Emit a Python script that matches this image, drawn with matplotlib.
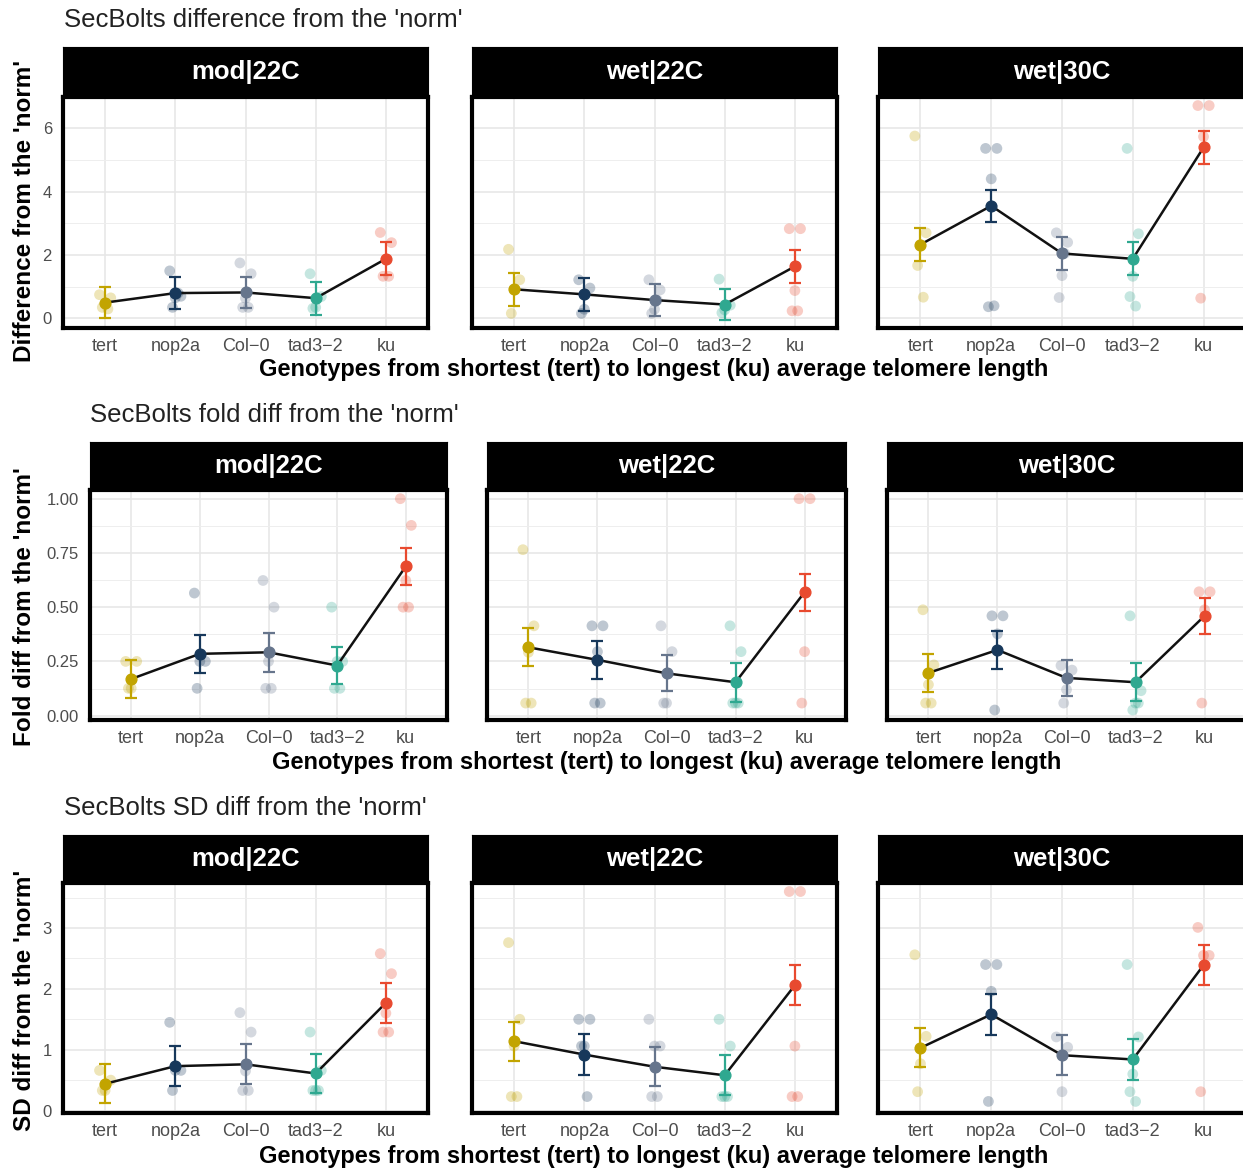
import numpy as np
import matplotlib.pyplot as plt

plt.rcParams['font.family'] = ['Liberation Sans', 'DejaVu Sans']

# categories
genotypes = ["tert", "nop2a", "Col\u22120", "tad3\u22122", "ku"]
conditions = ["mod|22C", "wet|22C", "wet|30C"]
geno_colors = ["#C2A400", "#17385B", "#66758C", "#2FA890", "#E84A2F"]

# difference from the norm: raw points, means and standard errors
diff_points = {
    "mod|22C": [[0.75, 0.65, 0.45, 0.35, 0.3], [1.5, 0.7, 0.65, 0.35, 0.8],
                [1.75, 1.41, 0.64, 0.35, 0.35], [1.41, 0.69, 0.35, 0.32],
                [2.71, 2.39, 1.86, 1.33, 1.33]],
    "wet|22C": [[2.18, 1.22, 0.92, 0.16], [1.22, 0.96, 0.29, 0.16],
                [1.22, 0.9, 0.29, 0.16, 0.58], [1.24, 0.42, 0.27, 0.18],
                [2.83, 2.83, 0.88, 0.24, 0.24]],
    "wet|30C": [[5.75, 2.7, 2.33, 1.67, 0.67], [5.36, 5.36, 4.4, 0.37, 0.4],
                [2.7, 2.4, 1.35, 0.66, 2.05], [5.36, 2.67, 1.33, 0.69, 0.39],
                [6.71, 6.71, 5.73, 0.64]],
}
diff_means = {"mod|22C": [0.50, 0.80, 0.82, 0.64, 1.88],
              "wet|22C": [0.92, 0.76, 0.58, 0.44, 1.64],
              "wet|30C": [2.33, 3.55, 2.05, 1.88, 5.39]}
diff_se = {"mod|22C": [0.50, 0.51, 0.50, 0.52, 0.52],
           "wet|22C": [0.52, 0.51, 0.51, 0.50, 0.51],
           "wet|30C": [0.51, 0.51, 0.51, 0.52, 0.52]}

# fold difference from the norm
fold_points = {
    "mod|22C": [[0.25, 0.25, 0.126, 0.126], [0.565, 0.25, 0.25, 0.126],
                [0.623, 0.5, 0.25, 0.126, 0.126], [0.5, 0.25, 0.25, 0.126, 0.126],
                [1.0, 0.877, 0.623, 0.5, 0.5]],
    "wet|22C": [[0.765, 0.414, 0.292, 0.058, 0.058], [0.414, 0.414, 0.295, 0.058, 0.058],
                [0.414, 0.295, 0.058, 0.058], [0.414, 0.295, 0.058, 0.058, 0.058],
                [1.0, 1.0, 0.295, 0.058]],
    "wet|30C": [[0.488, 0.234, 0.143, 0.058, 0.058], [0.46, 0.46, 0.377, 0.026],
                [0.231, 0.21, 0.12, 0.058], [0.46, 0.115, 0.058, 0.026, 0.058],
                [0.571, 0.571, 0.488, 0.058]],
}
fold_means = {"mod|22C": [0.169, 0.285, 0.292, 0.231, 0.688],
              "wet|22C": [0.315, 0.257, 0.195, 0.154, 0.569],
              "wet|30C": [0.197, 0.303, 0.174, 0.154, 0.460]}
fold_se = {"mod|22C": [0.086, 0.087, 0.089, 0.087, 0.086],
           "wet|22C": [0.088, 0.086, 0.083, 0.089, 0.085],
           "wet|30C": [0.088, 0.088, 0.083, 0.088, 0.083]}

# SD difference from the norm
sd_points = {
    "mod|22C": [[0.66, 0.5, 0.33, 0.33], [1.45, 0.66, 0.66, 0.33],
                [1.61, 1.29, 0.65, 0.33, 0.33], [1.29, 0.66, 0.33, 0.33, 0.33],
                [2.58, 2.25, 1.6, 1.29, 1.29]],
    "wet|22C": [[2.76, 1.5, 1.06, 0.23, 0.23], [1.5, 1.5, 1.06, 1.06, 0.23],
                [1.5, 1.06, 1.06, 0.23, 0.23], [1.5, 1.06, 0.23, 0.23, 0.23],
                [3.6, 3.6, 1.06, 0.23, 0.23]],
    "wet|30C": [[2.56, 1.22, 0.77, 0.31], [2.4, 2.4, 1.96, 0.15],
                [1.21, 1.04, 0.31], [2.4, 1.21, 0.6, 0.31, 0.15],
                [3.01, 2.55, 2.55, 0.31]],
}
sd_means = {"mod|22C": [0.44, 0.73, 0.76, 0.61, 1.77],
            "wet|22C": [1.14, 0.92, 0.72, 0.58, 2.06],
            "wet|30C": [1.03, 1.58, 0.91, 0.84, 2.39]}
sd_se = {"mod|22C": [0.32, 0.33, 0.33, 0.32, 0.33],
         "wet|22C": [0.32, 0.34, 0.32, 0.33, 0.33],
         "wet|30C": [0.32, 0.34, 0.33, 0.33, 0.33]}

W, H = 1243, 1172
fig = plt.figure(figsize=(W / 100, H / 100), dpi=100)


def px_box(x0, y0, x1, y1):
    return [x0 / W, 1 - y1 / H, (x1 - x0) / W, (y1 - y0) / H]


rows = [
    dict(title="SecBolts difference from the 'norm'", ylabel="Difference from the 'norm'",
         pts=diff_points, means=diff_means, se=diff_se, ylim=(-0.3, 6.98),
         yticks=[0, 2, 4, 6], ylabels=["0", "2", "4", "6"],
         xs=[(63, 428), (472, 837), (878, 1246)], strip=(47, 97), panel=(97, 328),
         title_pos=(64, 20), ylabel_y=211, xlabel_pos=(654, 370)),
    dict(title="SecBolts fold diff from the 'norm'", ylabel="Fold diff from the 'norm'",
         pts=fold_points, means=fold_means, se=fold_se, ylim=(-0.02, 1.04),
         yticks=[0, 0.25, 0.5, 0.75, 1.0], ylabels=["0.00", "0.25", "0.50", "0.75", "1.00"],
         xs=[(90, 447), (487, 846), (887, 1246)], strip=(442, 490), panel=(490, 720),
         title_pos=(90, 415), ylabel_y=607, xlabel_pos=(667, 763)),
    dict(title="SecBolts SD diff from the 'norm'", ylabel="SD diff from the 'norm'",
         pts=sd_points, means=sd_means, se=sd_se, ylim=(-0.04, 3.74),
         yticks=[0, 1, 2, 3], ylabels=["0", "1", "2", "3"],
         xs=[(63, 428), (472, 837), (878, 1246)], strip=(835, 883), panel=(883, 1113),
         title_pos=(64, 808), ylabel_y=1000, xlabel_pos=(654, 1157)),
]

jitter = [-0.08, 0.08, 0.0, -0.04, 0.04]
xpos = np.arange(1, len(genotypes) + 1)

for row in rows:
    for j, cond in enumerate(conditions):
        x0, x1 = row["xs"][j]
        ax = fig.add_axes(px_box(x0, row["panel"][0], x1, row["panel"][1]))
        sax = fig.add_axes(px_box(x0, row["strip"][0], x1, row["strip"][1]))
        sax.set_facecolor("black")
        sax.set_xticks([])
        sax.set_yticks([])
        for s in sax.spines.values():
            s.set_color("black")
        sax.text(0.5, 0.5, cond, color="white", fontsize=18.5, fontweight="bold",
                 ha="center", va="center", transform=sax.transAxes)

        for g in range(len(genotypes)):
            vals = row["pts"][cond][g]
            xx = [xpos[g] + jitter[k % len(jitter)] for k in range(len(vals))]
            ax.scatter(xx, vals, s=60, color=geno_colors[g], alpha=0.28,
                       edgecolors="none", zorder=2)
        ax.plot(xpos, row["means"][cond], color="#111111", lw=1.8, zorder=3)
        for g in range(len(genotypes)):
            ax.errorbar(xpos[g], row["means"][cond][g], yerr=row["se"][cond][g],
                        color=geno_colors[g], capsize=4, elinewidth=1.6,
                        capthick=1.6, fmt="none", zorder=4)
            ax.scatter(xpos[g], row["means"][cond][g], s=60,
                       color=geno_colors[g], zorder=5)

        ax.set_xticks(xpos)
        ax.set_xticklabels(genotypes, fontsize=13, color="#4D4D4D")
        ax.set_yticks(row["yticks"])
        yt = row["yticks"]
        step = yt[1] - yt[0]
        ax.set_yticks([v + step / 2 for v in [yt[0] - step] + yt], minor=True)
        ax.set_xlim(0.4, 5.6)
        ax.set_ylim(*row["ylim"])
        if j == 0:
            ax.set_yticklabels(row["ylabels"], fontsize=12, color="#4D4D4D")
        else:
            ax.set_yticklabels([])
        ax.tick_params(axis="both", which="both", length=0)
        ax.tick_params(axis="x", pad=7)
        ax.tick_params(axis="y", pad=8)
        ax.grid(True, which="major", color="#E6E6E6", lw=1.1, zorder=0)
        ax.grid(True, which="minor", axis="y", color="#EEEEEE", lw=0.7, zorder=0)
        ax.set_axisbelow(True)
        for s in ax.spines.values():
            s.set_linewidth(3)
            s.set_color("black")

    tx, ty = row["title_pos"]
    fig.text(tx / W, 1 - ty / H, row["title"], fontsize=18.5, color="#222222",
             ha="left", va="center")
    fig.text(25 / W, 1 - row["ylabel_y"] / H, row["ylabel"], fontsize=17.5,
             fontweight="bold", rotation=90, ha="center", va="center")
    lx, ly = row["xlabel_pos"]
    fig.text(lx / W, 1 - ly / H,
             "Genotypes from shortest (tert) to longest (ku) average telomere length",
             fontsize=17, fontweight="bold", ha="center", va="center")

fig.savefig("out.png", dpi=100, facecolor="white")
